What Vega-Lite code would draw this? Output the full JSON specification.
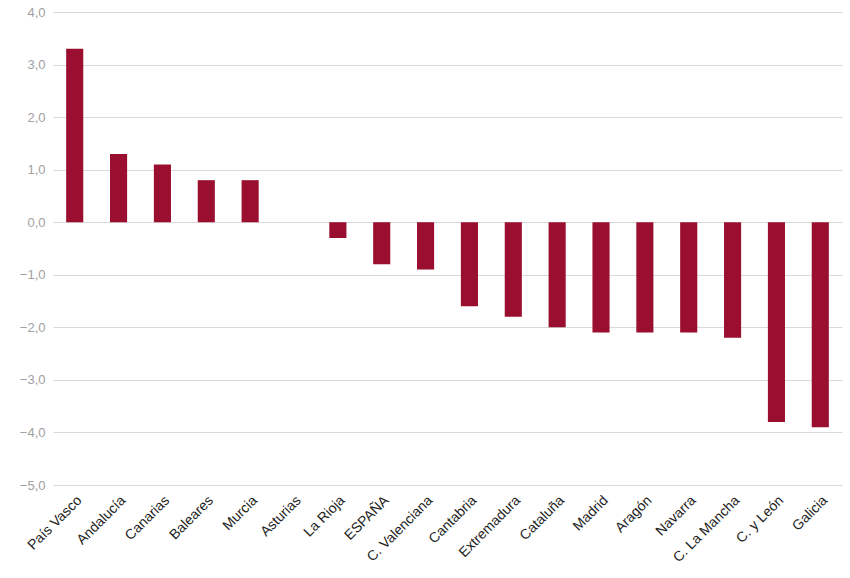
{
  "$schema": "https://vega.github.io/schema/vega-lite/v6.json",
  "width": 789,
  "height": 473,
  "autosize": {"type": "none"},
  "padding": {"left": 53, "top": 12, "right": 8, "bottom": 93},
  "background": "white",
  "data": {"values": [
    {"region": "País Vasco", "value": 3.3},
    {"region": "Andalucía", "value": 1.3},
    {"region": "Canarias", "value": 1.1},
    {"region": "Baleares", "value": 0.8},
    {"region": "Murcia", "value": 0.8},
    {"region": "Asturias", "value": 0.0},
    {"region": "La Rioja", "value": -0.3},
    {"region": "ESPAÑA", "value": -0.8},
    {"region": "C. Valenciana", "value": -0.9},
    {"region": "Cantabria", "value": -1.6},
    {"region": "Extremadura", "value": -1.8},
    {"region": "Cataluña", "value": -2.0},
    {"region": "Madrid", "value": -2.1},
    {"region": "Aragón", "value": -2.1},
    {"region": "Navarra", "value": -2.1},
    {"region": "C. La Mancha", "value": -2.2},
    {"region": "C. y León", "value": -3.8},
    {"region": "Galicia", "value": -3.9}
  ]},
  "mark": {"type": "bar", "color": "#9A0E2F"},
  "encoding": {
    "x": {
      "field": "region",
      "type": "nominal",
      "sort": null,
      "title": null,
      "scale": {"paddingInner": 0.61, "paddingOuter": 0.3},
      "axis": {
        "labelAngle": -45,
        "labelFont": "Liberation Sans",
        "labelFontSize": 14,
        "labelColor": "#222222",
        "domain": false,
        "ticks": false,
        "labelPadding": 8,
        "grid": false
      }
    },
    "y": {
      "field": "value",
      "type": "quantitative",
      "title": null,
      "scale": {"domain": [-5, 4], "nice": false},
      "axis": {
        "values": [-5, -4, -3, -2, -1, 0, 1, 2, 3, 4],
        "format": ".1f",
        "labelExpr": "replace(datum.label, '.', ',')",
        "labelFont": "Liberation Sans",
        "labelFontSize": 13,
        "labelColor": "#a0a0a0",
        "domain": false,
        "ticks": false,
        "labelPadding": 8,
        "gridColor": "#d9d9d9",
        "gridWidth": 1
      }
    }
  },
  "config": {"view": {"stroke": null}}
}
